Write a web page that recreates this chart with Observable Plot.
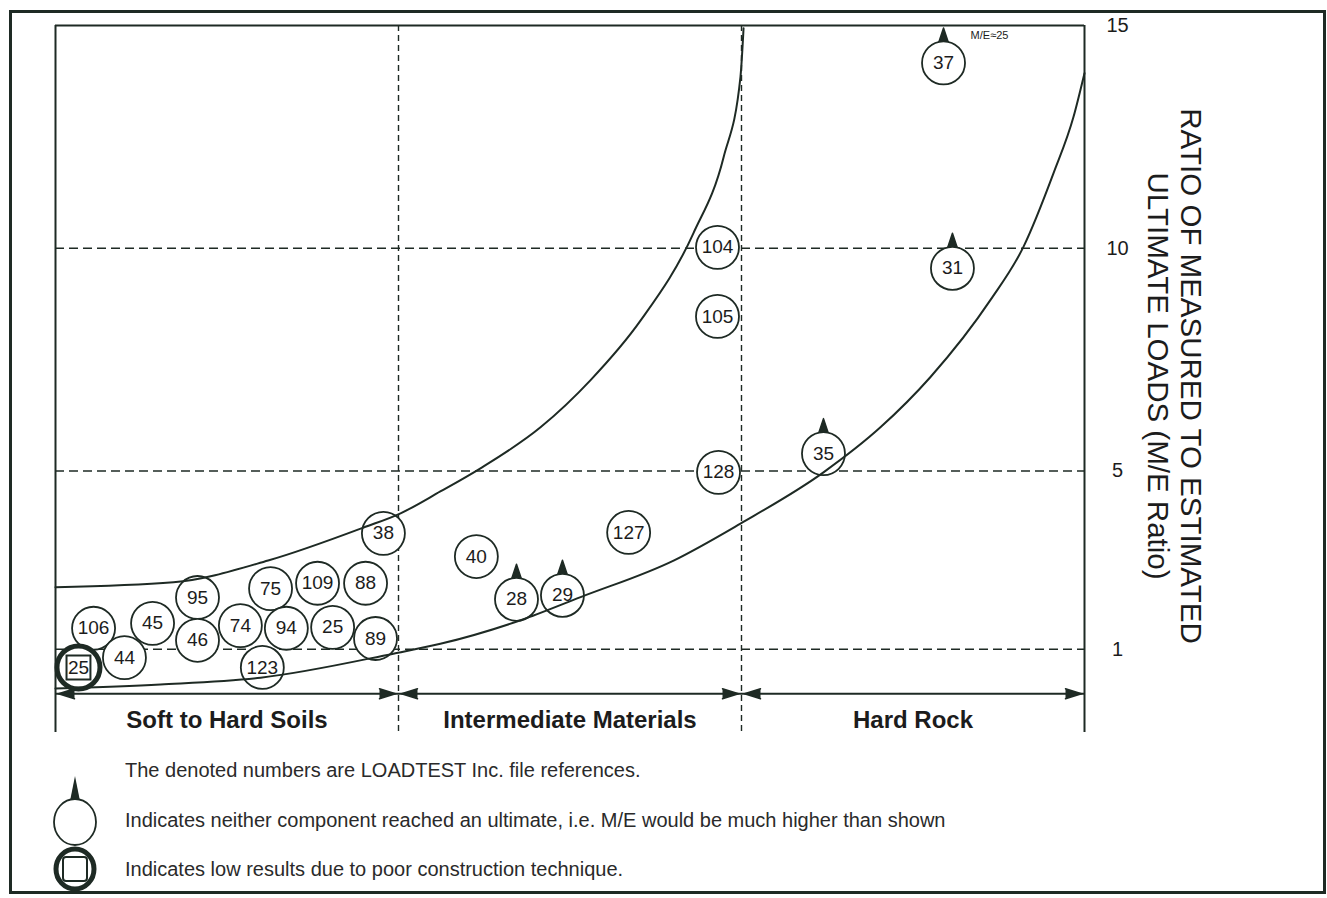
<!DOCTYPE html>
<html><head><meta charset="utf-8">
<script src="https://cdn.jsdelivr.net/npm/d3@7"></script>
<script src="https://cdn.jsdelivr.net/npm/@observablehq/plot@0.6"></script>
<style>
body{margin:0;background:#fff;font-family:"Liberation Sans",Arial,Helvetica,sans-serif;}
#wrap{position:relative;width:1327px;height:898px;overflow:hidden;background:#fff;}
#border{position:absolute;left:9px;top:10px;width:1311px;height:878px;border:3px solid #1e2a24;}
#chart{position:absolute;left:0;top:0;}
.leg{position:absolute;left:125px;font-size:20px;line-height:22px;color:#2a2a2a;white-space:nowrap;}
#icons{position:absolute;left:0;top:0;}
</style></head><body>
<div id="wrap">
<div id="border"></div>
<div id="chart"></div>
<svg id="icons" width="120" height="898">
  <path d="M70,801 L75,776 L80,801 Z" fill="#1e2a24"/>
  <ellipse cx="75" cy="822" rx="21" ry="23" fill="#fff" stroke="#1e2a24" stroke-width="1.8"/>
  <ellipse cx="75" cy="869" rx="19" ry="20" fill="#fff" stroke="#1e2a24" stroke-width="5"/>
  <rect x="63" y="857" width="24" height="24" rx="3" fill="#fff" stroke="#1e2a24" stroke-width="2"/>
</svg>
<div class="leg" style="top:759px">The denoted numbers are LOADTEST Inc. file references.</div>
<div class="leg" style="top:809px">Indicates neither component reached an ultimate, i.e. M/E would be much higher than shown</div>
<div class="leg" style="top:858px">Indicates low results due to poor construction technique.</div>
</div>
<script>
// ---- data ----
const regions = ["Soft to Hard Soils", "Intermediate Materials", "Hard Rock"];
const yTicks = [1, 5, 10, 15];
const gridRatios = [1, 5, 10];

// LOADTEST file references, position along material scale (0..3), M/E ratio
const fileRefs   = ["106","45","95","46","74","75","109","88","94","25","89","44","123","25","38","40","28","29","127","128","105","104","35","31","37"];
const material   = [0.111,0.283,0.414,0.414,0.539,0.627,0.764,0.904,0.673,0.808,0.933,0.201,0.603,0.067,0.956,1.227,1.344,1.478,1.671,1.933,1.930,1.930,2.239,2.615,2.589];
const meRatio    = [1.47,1.58,2.16,1.20,1.53,2.36,2.48,2.48,1.47,1.49,1.24,0.81,0.59,0.59,3.60,3.08,2.12,2.21,3.62,4.97,8.47,10.02,5.39,9.55,14.16];
const noUltimate = [0,0,0,0,0,0,0,0,0,0,0,0,0,0,0,0,1,1,0,0,0,0,1,1,1];
const poorConstr = [0,0,0,0,0,0,0,0,0,0,0,0,0,1,0,0,0,0,0,0,0,0,0,0,0];
const noteRef = "37", noteText = "M/E≈25";

// envelope curves
const upperX = [0,0.344,0.62,0.898,1.006,1.122,1.239,1.414,1.560,1.706,1.860,1.948,1.997,2.006];
const upperY = [2.39,2.50,2.99,3.73,4.05,4.54,5.06,5.98,7.04,8.38,10.34,12.05,13.85,14.94];
const lowerX = [0,0.306,0.598,0.985,1.122,1.356,1.531,1.802,1.997,2.239,2.405,2.551,2.726,2.822,2.910,2.968,3.0];
const lowerY = [0.12,0.21,0.36,0.90,1.12,1.65,2.17,2.99,3.82,4.97,5.98,7.11,8.84,10.03,11.69,12.95,13.93];

// ---- build ----
const ink = "#1e2a24", txt = "#1c1c1c";
const pts = fileRefs.map((id,i)=>({id, x: material[i], y: meRatio[i], up: !!noUltimate[i], poor: !!poorConstr[i]}));
const upper = upperX.map((x,i)=>({x, y: upperY[i]}));
const lower = lowerX.map((x,i)=>({x, y: lowerY[i]}));
const regionData = regions.map((name,i)=>({name, x: i + 0.5, y: -0.6}));
const headsL = regions.map((r,i)=>({x: i, y: 0}));
const headsR = regions.map((r,i)=>({x: i + 1, y: 0}));

const plot = Plot.plot({
  width: 1327, height: 740,
  marginLeft: 55, marginRight: 243, marginTop: 25, marginBottom: 8,
  x: {domain: [0, 3], axis: null},
  y: {domain: [-0.87, 15], axis: null},
  style: {fontFamily: '"Liberation Sans", Arial, Helvetica, sans-serif', color: txt, background: "transparent"},
  marks: [
    Plot.ruleY(gridRatios, {stroke: ink, strokeWidth: 1.4, strokeDasharray: "9,5"}),
    Plot.ruleX([1, 2], {stroke: ink, strokeWidth: 1.4, strokeDasharray: "6,4"}),
    Plot.ruleX([0, 3], {stroke: ink, strokeWidth: 2}),
    Plot.ruleY([15], {stroke: ink, strokeWidth: 2}),
    Plot.ruleY([0], {stroke: ink, strokeWidth: 2}),
    Plot.vector(headsL, {x: "x", y: "y", shape: "spike", anchor: "end", rotate: -90, length: 16, r: 5, dx: 3, fill: ink, stroke: ink, fillOpacity: 1}),
    Plot.vector(headsR, {x: "x", y: "y", shape: "spike", anchor: "end", rotate: 90, length: 16, r: 5, dx: -3, fill: ink, stroke: ink, fillOpacity: 1}),
    Plot.text(regionData, {x: "x", y: "y", text: "name", fontSize: 24, fontWeight: "bold", fill: txt}),
    Plot.axisY({ticks: yTicks, anchor: "right", tickSize: 0, tickPadding: 33, textAnchor: "middle", fontSize: 20, label: null, fill: txt}),
    Plot.text(["RATIO OF MEASURED TO ESTIMATED"], {text: d => d, frameAnchor: "right", textAnchor: "middle", rotate: 90, dx: 106, dy: -3, fontSize: 29.5, fill: txt}),
    Plot.text(["ULTIMATE LOADS (M/E Ratio)"], {text: d => d, frameAnchor: "right", textAnchor: "middle", rotate: 90, dx: 73, dy: -3, fontSize: 29.5, fill: txt}),
    Plot.vector(pts.filter(d => d.up), {x: "x", y: "y", shape: "spike", anchor: "start", length: 15, r: 5, dy: -20, fill: ink, stroke: ink, fillOpacity: 1}),
    Plot.dot(pts, {x: "x", y: "y", r: 21.5, fill: "white", stroke: ink, strokeWidth: d => d.poor ? 5 : 1.8}),
    Plot.dot(pts.filter(d => d.poor), {x: "x", y: "y", symbol: "square", r: 13.5, fill: "white", stroke: ink, strokeWidth: 2}),
    Plot.line(upper, {x: "x", y: "y", curve: "monotone-x", stroke: ink, strokeWidth: 2}),
    Plot.line(lower, {x: "x", y: "y", curve: "monotone-x", stroke: ink, strokeWidth: 2}),
    Plot.text(pts, {x: "x", y: "y", text: "id", fontSize: 19, fill: txt}),
    Plot.text(pts.filter(d => d.id === noteRef), {x: "x", y: "y", text: () => noteText, dx: 46, dy: -27, fontSize: 11, fill: txt})
  ]
});
document.getElementById("chart").appendChild(plot);
</script>
</body></html>
